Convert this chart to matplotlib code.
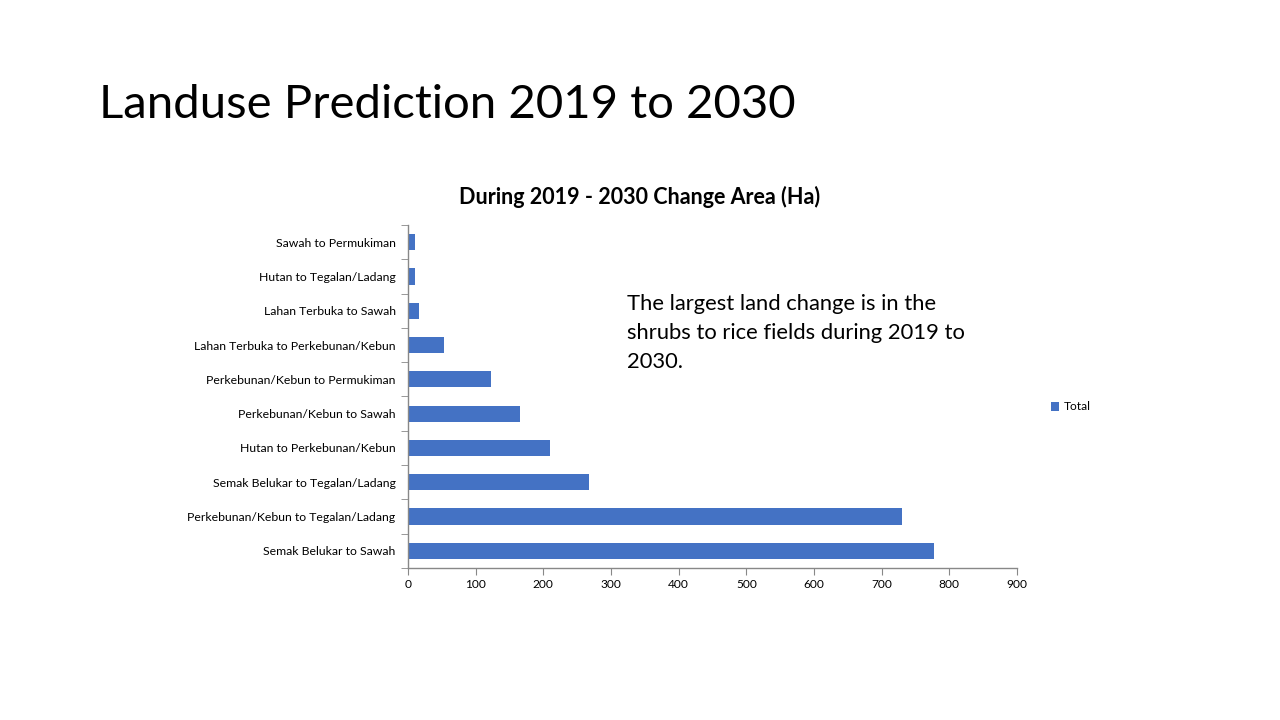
import matplotlib.pyplot as plt
import numpy as np

plt.rcParams['font.family'] = ['Lato', 'DejaVu Sans']

# Data (Ha)
categories = [
    "Semak Belukar to Sawah",
    "Perkebunan/Kebun to Tegalan/Ladang",
    "Semak Belukar to Tegalan/Ladang",
    "Hutan to Perkebunan/Kebun",
    "Perkebunan/Kebun to Sawah",
    "Perkebunan/Kebun to Permukiman",
    "Lahan Terbuka to Perkebunan/Kebun",
    "Lahan Terbuka to Sawah",
    "Hutan to Tegalan/Ladang",
    "Sawah to Permukiman",
]
totals = [777, 730, 268, 210, 166, 123, 53, 16, 10, 10]
x_ticks = [0, 100, 200, 300, 400, 500, 600, 700, 800, 900]

bar_color = "#4472C4"
axis_color = "#888888"

fig = plt.figure(figsize=(12.8, 7.2), dpi=100)
fig.patch.set_facecolor("white")

# slide title
fig.text(99 / 1280, 1 - 105 / 720, "Landuse Prediction 2019 to 2030",
         fontsize=34, fontweight="normal", va="center", ha="left", color="#000000")

ax = fig.add_axes([408 / 1280, 1 - 568 / 720, 609 / 1280, 343 / 720])
y = np.arange(len(categories))
bars = ax.barh(y, totals, height=0.47, color=bar_color, label="Total")

ax.set_xlim(0, 900)
ax.set_ylim(-0.5, len(categories) - 0.5)
ax.set_xticks(x_ticks)
ax.set_yticks(y)
ax.set_yticklabels(categories)
ax.set_yticks(np.arange(-0.5, len(categories), 1), minor=True)

for s in ["top", "right"]:
    ax.spines[s].set_visible(False)
for s in ["left", "bottom"]:
    ax.spines[s].set_color(axis_color)
    ax.spines[s].set_linewidth(1)

ax.tick_params(axis="y", which="major", length=0, pad=9, labelsize=8.8)
ax.tick_params(axis="y", which="minor", length=5, color=axis_color)
ax.tick_params(axis="x", length=5, color=axis_color, labelsize=8.6, pad=3)

fig.text(640 / 1280, 1 - 197 / 720, "During 2019 - 2030 Change Area (Ha)",
         fontsize=15.5, fontweight="bold", ha="center", va="center")

fig.text(627 / 1280, 1 - 294 / 720,
         "The largest land change is in the\nshrubs to rice fields during 2019 to\n2030.",
         fontsize=15.8, ha="left", va="top", linespacing=1.55)

fig.legend(handles=[bars], labels=["Total"], loc="center left",
           bbox_to_anchor=(1040 / 1280, 1 - 407 / 720), frameon=False,
           fontsize=8.6, handlelength=0.7, handleheight=0.7, handletextpad=0.4)

fig.savefig("out.png", dpi=100, facecolor="white")
